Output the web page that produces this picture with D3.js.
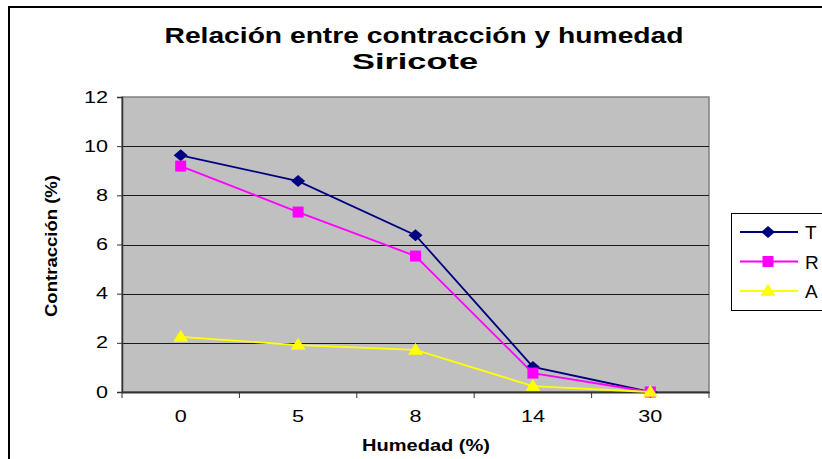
<!DOCTYPE html>
<html>
<head>
<meta charset="utf-8">
<script src="https://cdn.jsdelivr.net/npm/d3@7"></script>
<style>
  body { margin: 0; background: #fff; }
  text { font-family: "Liberation Sans", Arial, sans-serif; }
</style>
</head>
<body>
<div id="chart"></div>
<script>
// data
const categories = ["0", "5", "8", "14", "30"]
const seriesNames = ["T", "R", "A"]
const valuesT = [9.63, 8.58, 6.38, 1.02, 0]
const valuesR = [9.19, 7.32, 5.53, 0.77, 0]
const valuesA = [2.24, 1.91, 1.71, 0.24, 0]
const yTicks = [0, 2, 4, 6, 8, 10, 12]

// marker shapes, Excel style
const diamond = (w, h) => `M0,${-h/2}L${w/2},0L0,${h/2}L${-w/2},0Z`
const square = s => `M${-s/2},${-s/2}h${s}v${s}h${-s}Z`
const triangle = (w, h) => `M0,${-h*0.6}L${w/2},${h*0.4}L${-w/2},${h*0.4}Z`

const series = [
	{name: seriesNames[0], values: valuesT, color: "#000080", marker: diamond(14, 12)},
	{name: seriesNames[1], values: valuesR, color: "#FF00FF", marker: square(11)},
	{name: seriesNames[2], values: valuesA, color: "#FFFF00", marker: triangle(15, 12)}
]

const W = 822, H = 459
const plot = {left: 122, right: 709, top: 97, bottom: 392}

// numbers in the original are drawn wider than the font gives
// (digits are 0.556em wide in Liberation Sans)
function stretchDigits(sel, size, k) {
	sel.attr("font-size", size)
		.style("font-size", size + "px")
		.attr("textLength", d => String(d).length * 0.556 * size * k)
		.attr("lengthAdjust", "spacingAndGlyphs")
}

const svg = d3.select("#chart").append("svg")
	.attr("width", W)
	.attr("height", H)

// outer chart border
svg.append("rect")
	.attr("x", 9).attr("y", 7)
	.attr("width", W + 20).attr("height", H + 20)
	.attr("fill", "white")
	.attr("stroke", "black")
	.attr("stroke-width", 2)

const x = d3.scaleBand()
	.domain(categories)
	.range([plot.left, plot.right])

const y = d3.scaleLinear()
	.domain([0, 12])
	.range([plot.bottom, plot.top])

// plot background
svg.append("rect")
	.attr("x", plot.left).attr("y", plot.top)
	.attr("width", plot.right - plot.left)
	.attr("height", plot.bottom - plot.top)
	.attr("fill", "#C0C0C0")
	.attr("stroke", "#808080")
	.attr("stroke-width", 1.5)

// gridlines
svg.append("g")
	.selectAll("line")
	.data(yTicks.filter(d => d > 0 && d < 12))
	.enter()
	.append("line")
	.attr("x1", plot.left).attr("x2", plot.right)
	.attr("y1", d => Math.round(y(d)) + 0.5)
	.attr("y2", d => Math.round(y(d)) + 0.5)
	.attr("stroke", "#1a1a1a")
	.attr("stroke-width", 1)

// y axis
const yAxis = svg.append("g")
	.attr("transform", `translate(${plot.left},0)`)
	.call(d3.axisLeft(y).tickValues(yTicks).tickSize(5).tickPadding(9))
yAxis.select(".domain").attr("stroke", "#333").attr("stroke-width", 1.5)
yAxis.selectAll(".tick line").attr("stroke", "#333")
yAxis.selectAll("text")
	.attr("fill", "black")
	.call(stretchDigits, 16, 1.35)

// x axis, ticks between categories
const xAxis = svg.append("g")
	.attr("transform", `translate(0,${plot.bottom})`)
	.call(d3.axisBottom(x).tickSize(0).tickPadding(19))
xAxis.select(".domain").attr("stroke", "#333").attr("stroke-width", 2)
xAxis.selectAll("text")
	.attr("fill", "black")
	.call(stretchDigits, 16, 1.35)

svg.append("g")
	.selectAll("line")
	.data(d3.range(categories.length + 1))
	.enter()
	.append("line")
	.attr("x1", i => plot.left + i * x.step())
	.attr("x2", i => plot.left + i * x.step())
	.attr("y1", plot.bottom)
	.attr("y2", plot.bottom + 6)
	.attr("stroke", "#333")

// lines and markers
const cx = i => x(categories[i]) + x.bandwidth() / 2

const lineFunction = d3.line()
	.x((d, i) => cx(i))
	.y(d => y(d))

series.forEach(s => {
	svg.append("path")
		.attr("d", lineFunction(s.values))
		.attr("fill", "none")
		.attr("stroke", s.color)
		.attr("stroke-width", 1.8)
	svg.append("g")
		.selectAll("path")
		.data(s.values)
		.enter()
		.append("path")
		.attr("transform", (d, i) => `translate(${cx(i)},${y(d)})`)
		.attr("d", s.marker)
		.attr("fill", s.color)
})

// title
svg.append("text")
	.attr("x", 424).attr("y", 43)
	.attr("text-anchor", "middle")
	.style("font-size", "22px")
	.style("font-weight", "bold")
	.attr("textLength", 519)
	.attr("lengthAdjust", "spacingAndGlyphs")
	.text("Relación entre contracción y humedad")

svg.append("text")
	.attr("x", 415).attr("y", 69)
	.attr("text-anchor", "middle")
	.style("font-size", "22px")
	.style("font-weight", "bold")
	.attr("textLength", 126)
	.attr("lengthAdjust", "spacingAndGlyphs")
	.text("Siricote")

// axis titles
svg.append("text")
	.attr("transform", `translate(57,246) rotate(-90)`)
	.attr("text-anchor", "middle")
	.style("font-size", "17px")
	.style("font-weight", "bold")
	.attr("textLength", 142)
	.attr("lengthAdjust", "spacingAndGlyphs")
	.text("Contracción (%)")

svg.append("text")
	.attr("x", 426)
	.attr("y", 451)
	.attr("text-anchor", "middle")
	.style("font-size", "17px")
	.style("font-weight", "bold")
	.attr("textLength", 128)
	.attr("lengthAdjust", "spacingAndGlyphs")
	.text("Humedad (%)")

// legend
svg.append("rect")
	.attr("x", 731.5).attr("y", 213.5)
	.attr("width", 120).attr("height", 97)
	.attr("fill", "white")
	.attr("stroke", "black")
	.attr("stroke-width", 1)

series.forEach((s, i) => {
	const ly = 232 + i * 29.5
	svg.append("line")
		.attr("x1", 740).attr("x2", 798)
		.attr("y1", ly).attr("y2", ly)
		.attr("stroke", s.color)
		.attr("stroke-width", 1.8)
	svg.append("path")
		.attr("transform", `translate(768,${ly})`)
		.attr("d", s.marker)
		.attr("fill", s.color)
	svg.append("text")
		.attr("x", 805)
		.attr("y", ly + 7)
		.style("font-size", "19px")
		.text(s.name)
})
</script>
</body>
</html>
